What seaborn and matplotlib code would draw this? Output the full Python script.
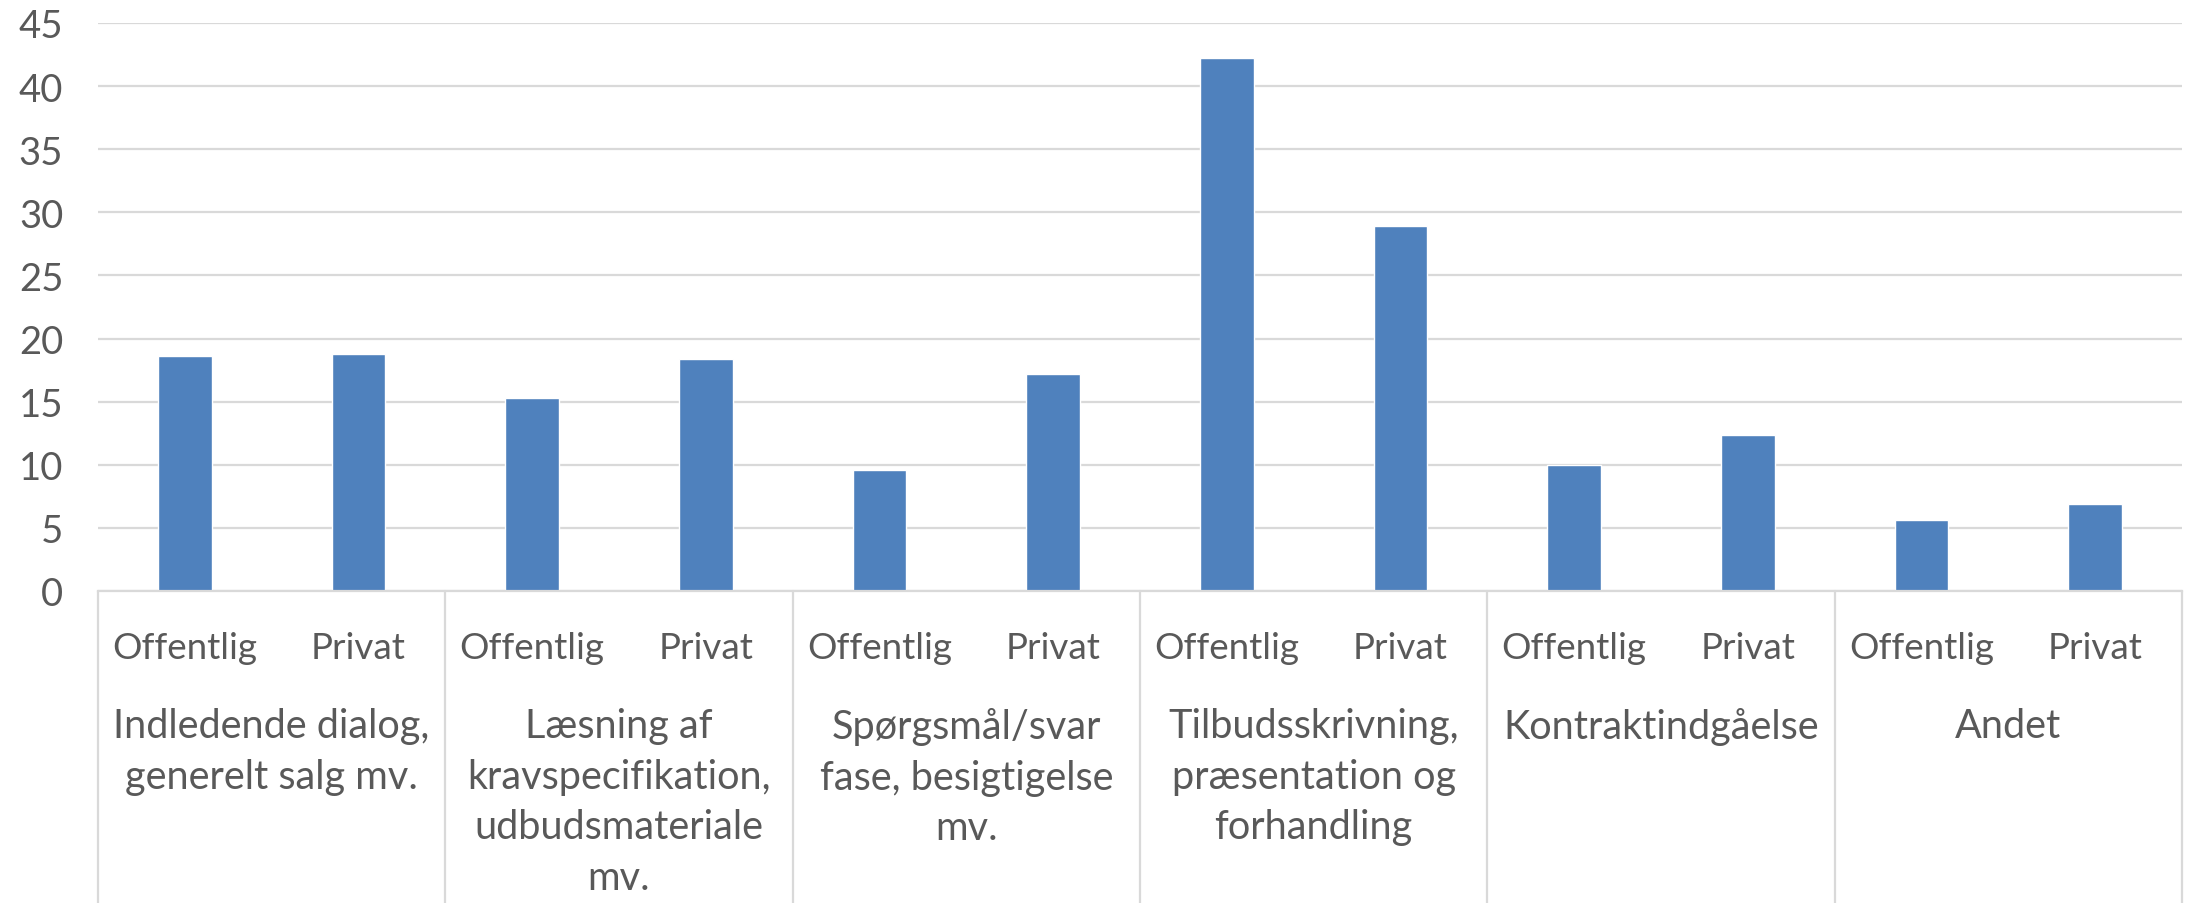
import numpy as np
import pandas as pd
import seaborn as sns
import matplotlib.pyplot as plt
import matplotlib.transforms as mtransforms

# data
faser = [
    "Indledende dialog,\ngenerelt salg mv.",
    "Læsning af\nkravspecifikation,\nudbudsmateriale\nmv.",
    "Spørgsmål/svar\nfase, besigtigelse\nmv.",
    "Tilbudsskrivning,\npræsentation og\nforhandling",
    "Kontraktindgåelse",
    "Andet",
]
sektorer = ["Offentlig", "Privat"]
offentlig = [18.65, 15.3, 9.6, 42.2, 10.0, 5.6]
privat = [18.77, 18.35, 17.2, 28.9, 12.33, 6.9]

rows = []
for i, fase in enumerate(faser):
    rows.append({"key": f"{i}-Offentlig", "sektor": "Offentlig", "andel": offentlig[i]})
    rows.append({"key": f"{i}-Privat", "sektor": "Privat", "andel": privat[i]})
df = pd.DataFrame(rows)

sns.set_theme(style="white")
plt.rcParams["font.family"] = ["Lato", "DejaVu Sans"]

txt = "#595959"
grid = "#d9d9d9"

fig = plt.figure(figsize=(21.91, 9.04), dpi=100)
ax = fig.add_axes([98 / 2191, 312 / 904, 2084 / 2191, 568 / 904])

sns.barplot(data=df, x="key", y="andel", color="#4f81bd", width=0.31,
            saturation=1, ax=ax, order=df["key"].tolist())

ax.set_ylim(0, 45)
ax.set_xlim(-0.5, len(df) - 0.5)
ax.set_yticks(np.arange(0, 46, 5))
ax.yaxis.grid(True, color=grid, linewidth=1.6)
ax.set_axisbelow(True)
for s in ["top", "right", "left"]:
    ax.spines[s].set_visible(False)
ax.spines["bottom"].set_color(grid)
ax.spines["bottom"].set_linewidth(1.6)

ax.set_xlabel("")
ax.set_ylabel("")
ax.set_xticks(range(len(df)))
ax.set_xticklabels(df["sektor"].tolist())
ax.tick_params(axis="x", length=0, pad=29, labelsize=26.5, labelcolor=txt)
ax.tick_params(axis="y", length=0, pad=25, labelsize=27.5, labelcolor=txt)

# group separators and group labels below the axis
trans = mtransforms.blended_transform_factory(ax.transData, ax.transAxes)
for b in np.arange(-0.5, len(df), 2):
    ax.plot([b, b], [0, -0.56], transform=trans, color=grid, linewidth=1.6,
            clip_on=False)
for i, fase in enumerate(faser):
    ax.text(2 * i + 0.5, -0.205, fase, transform=trans, ha="center", va="top",
            fontsize=28.5, color=txt, linespacing=1.45)

fig.savefig("out.png", dpi=100)
